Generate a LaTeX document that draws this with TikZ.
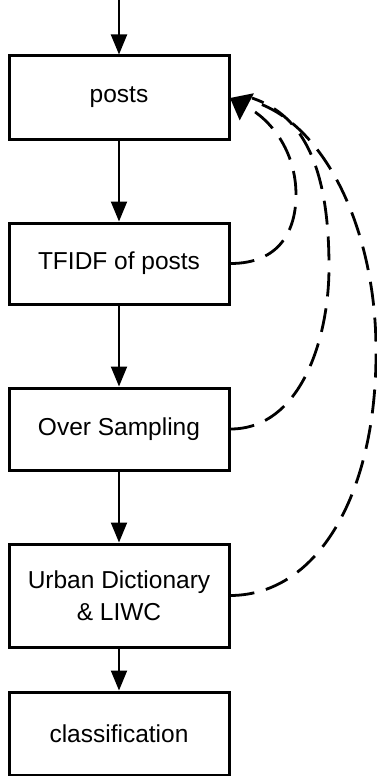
\documentclass[tikz,border=0pt]{standalone}
\usepackage{fontspec}
\setmainfont{Liberation Sans}
\usetikzlibrary{arrows.meta}
\begin{document}
\begin{tikzpicture}[x=1pt,y=-1pt,
  box/.style={draw=black,line width=3pt,minimum width=220pt,align=center,
    font=\fontsize{24.5}{31.5}\selectfont},
  flow/.style={line width=2pt,-{Triangle[length=20pt,width=16pt]}},
  fb/.style={line width=2.8pt,dash pattern=on 24pt off 12pt},
  fbtip/.style={fb,-{Triangle[length=19pt,width=30pt]}}]
\useasboundingbox (0,0) rectangle (377,776);
\node[box,minimum height=83pt] (posts) at (119,97.5) {posts};
\node[box,minimum height=81pt] (tfidf) at (119,263.5) {TFIDF of posts};
\node[box,minimum height=82pt] (over) at (119,429) {Over Sampling};
\node[box,minimum height=103pt] (urban) at (119,595.5) {Urban Dictionary\\ \& LIWC};
\node[box,minimum height=83pt] (cls) at (119,733.5) {classification};
\coordinate (entry) at (119,0);
\coordinate (tip) at (230,98);
\coordinate (basea) at (252,98);
\coordinate (baseb) at (255,102);
\draw[flow] (entry) -- (posts.north);
\draw[flow] (posts.south) -- (tfidf.north);
\draw[flow] (tfidf.south) -- (over.north);
\draw[flow] (over.south) -- (urban.north);
\draw[flow] (urban.south) -- (cls.north);
\draw[fbtip] (tfidf.east) .. controls (280,263.5) and (296,230) .. (296,195)
  .. controls (296,150) and (270,119) .. (tip);
\draw[fb] (over.east) .. controls (300,429) and (329,340) .. (329,267)
  .. controls (329,170) and (305,116) .. (basea);
\draw[fb] (urban.east) .. controls (320,595) and (377,490) .. (376,350)
  .. controls (376,230) and (325,125) .. (baseb);
\end{tikzpicture}
\end{document}
